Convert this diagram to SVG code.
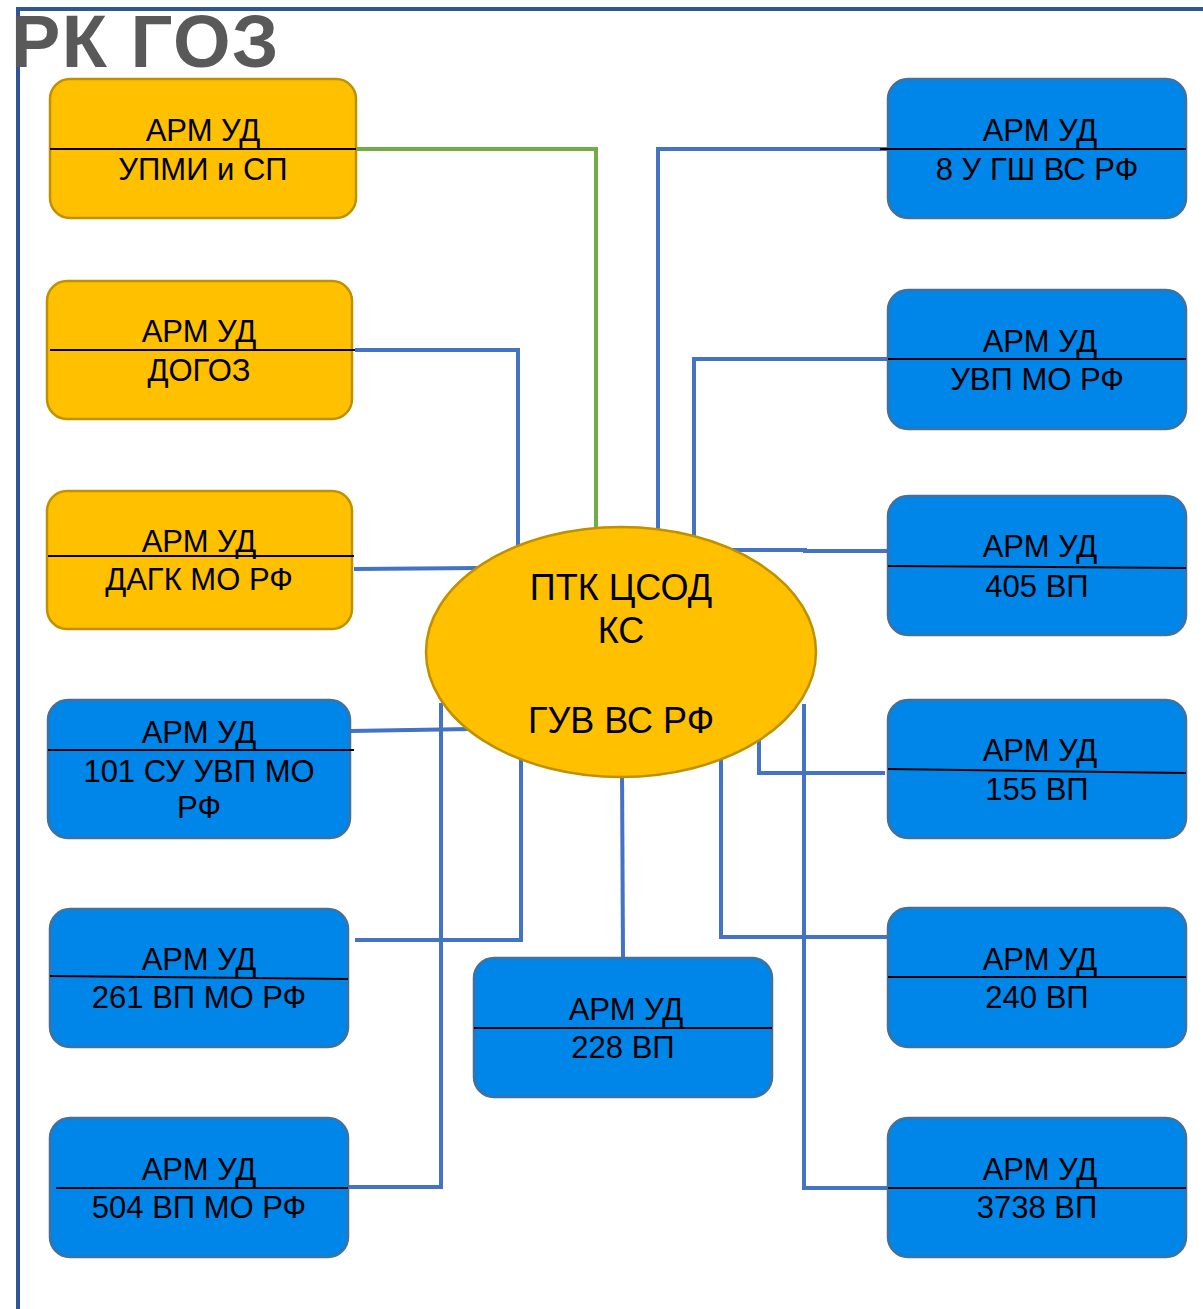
<svg xmlns="http://www.w3.org/2000/svg" width="1203" height="1309" viewBox="0 0 1203 1309">
<style>
.y{fill:#FFC000;stroke:#BF9000;stroke-width:2.5}
.b{fill:#0085E9;stroke:#41719C;stroke-width:2.5}
.d{stroke:#000;stroke-width:2;fill:none}
.c{fill:none;stroke:#4472C4;stroke-width:4}
.g{fill:none;stroke:#70AD47;stroke-width:4}
.t{font-family:"Liberation Sans",Arial,sans-serif;font-size:31px;fill:#000;text-anchor:middle}
.e{font-family:"Liberation Sans",Arial,sans-serif;font-size:36px;fill:#000;text-anchor:middle}
</style>
<rect width="1203" height="1309" fill="#fff"/>
<g id="frame">
<path d="M18 1309 V9 H1203" fill="none" stroke="#2F5597" stroke-width="4"/>
<text x="11" y="67" font-family="'Liberation Sans',Arial,sans-serif" font-weight="bold" font-size="74" fill="#595959" letter-spacing="1.5">РК ГОЗ</text>
</g>
<g id="connectors">
<path class="g" d="M356 149 H596 V530"/>
<path class="c" d="M355 350 H518 V550"/>
<path class="c" d="M354 569 L480 568"/>
<path class="c" d="M350 731 L470 729"/>
<path class="c" d="M355 940 H521 V755"/>
<path class="c" d="M348 1187 H441 V703"/>
<path class="c" d="M622 770 L623 958"/>
<path class="c" d="M888 149 H658 V530"/>
<path class="c" d="M888 359 H694 V536"/>
<path class="c" d="M730 550 H805 V551 H888"/>
<path class="c" d="M885 773 H759 V740"/>
<path class="c" d="M888 937 H721 V755"/>
<path class="c" d="M888 1188 H804 V704"/>
</g>
<g id="n-upmi"><rect class="y" x="50" y="79" width="306" height="139" rx="20"/><path class="d" d="M50 149 H356"/><text class="t" x="203" y="141">АРМ УД</text><text class="t" x="203" y="180">УПМИ и СП</text></g>
<g id="n-dogoz"><rect class="y" x="47" y="281" width="305" height="138" rx="20"/><path class="d" d="M50 350 H355"/><text class="t" x="199" y="342">АРМ УД</text><text class="t" x="199" y="381">ДОГОЗ</text></g>
<g id="n-dagk"><rect class="y" x="47" y="491" width="305" height="138" rx="20"/><path class="d" d="M48 556 H354"/><text class="t" x="199" y="552">АРМ УД</text><text class="t" x="199" y="590">ДАГК МО РФ</text></g>
<g id="n-101"><rect class="b" x="48" y="700" width="302" height="138" rx="20"/><path class="d" d="M48 750 H354"/><text class="t" x="199" y="743">АРМ УД</text><text class="t" x="199" y="782">101 СУ УВП МО</text><text class="t" x="199" y="818">РФ</text></g>
<g id="n-261"><rect class="b" x="50" y="909" width="298" height="138" rx="20"/><path class="d" d="M50 976 L348 979"/><text class="t" x="199" y="970">АРМ УД</text><text class="t" x="199" y="1008">261 ВП МО РФ</text></g>
<g id="n-504"><rect class="b" x="50" y="1118" width="298" height="139" rx="20"/><path class="d" d="M56 1188 H348"/><text class="t" x="199" y="1180">АРМ УД</text><text class="t" x="199" y="1218">504 ВП МО РФ</text></g>
<g id="n-8ugsh"><rect class="b" x="888" y="79" width="298" height="139" rx="20"/><path class="d" d="M880 149 H1186"/><text class="t" x="1040" y="141">АРМ УД</text><text class="t" x="1037" y="180">8 У ГШ ВС РФ</text></g>
<g id="n-uvp"><rect class="b" x="888" y="290" width="298" height="139" rx="20"/><path class="d" d="M888 359 H1186"/><text class="t" x="1040" y="352">АРМ УД</text><text class="t" x="1037" y="390">УВП МО РФ</text></g>
<g id="n-405"><rect class="b" x="888" y="496" width="298" height="139" rx="20"/><path class="d" d="M888 566 L1186 568"/><text class="t" x="1040" y="557">АРМ УД</text><text class="t" x="1037" y="597">405 ВП</text></g>
<g id="n-155"><rect class="b" x="888" y="700" width="298" height="138" rx="20"/><path class="d" d="M888 769 L1186 773"/><text class="t" x="1040" y="761">АРМ УД</text><text class="t" x="1037" y="800">155 ВП</text></g>
<g id="n-240"><rect class="b" x="888" y="908" width="298" height="139" rx="20"/><path class="d" d="M888 977 H1186"/><text class="t" x="1040" y="970">АРМ УД</text><text class="t" x="1037" y="1008">240 ВП</text></g>
<g id="n-3738"><rect class="b" x="888" y="1118" width="298" height="139" rx="20"/><path class="d" d="M888 1188 H1186"/><text class="t" x="1040" y="1180">АРМ УД</text><text class="t" x="1037" y="1218">3738 ВП</text></g>
<g id="n-228"><rect class="b" x="474" y="958" width="298" height="139" rx="20"/><path class="d" d="M474 1028 H772"/><text class="t" x="626" y="1020">АРМ УД</text><text class="t" x="623" y="1058">228 ВП</text></g>
<g id="n-center"><ellipse cx="621" cy="652" rx="195" ry="125" fill="#FFC000" stroke="#BF9000" stroke-width="2.5"/><text class="e" x="621" y="600">ПТК ЦСОД</text><text class="e" x="621" y="643">КС</text><text class="e" x="621" y="733">ГУВ ВС РФ</text></g>
</svg>
